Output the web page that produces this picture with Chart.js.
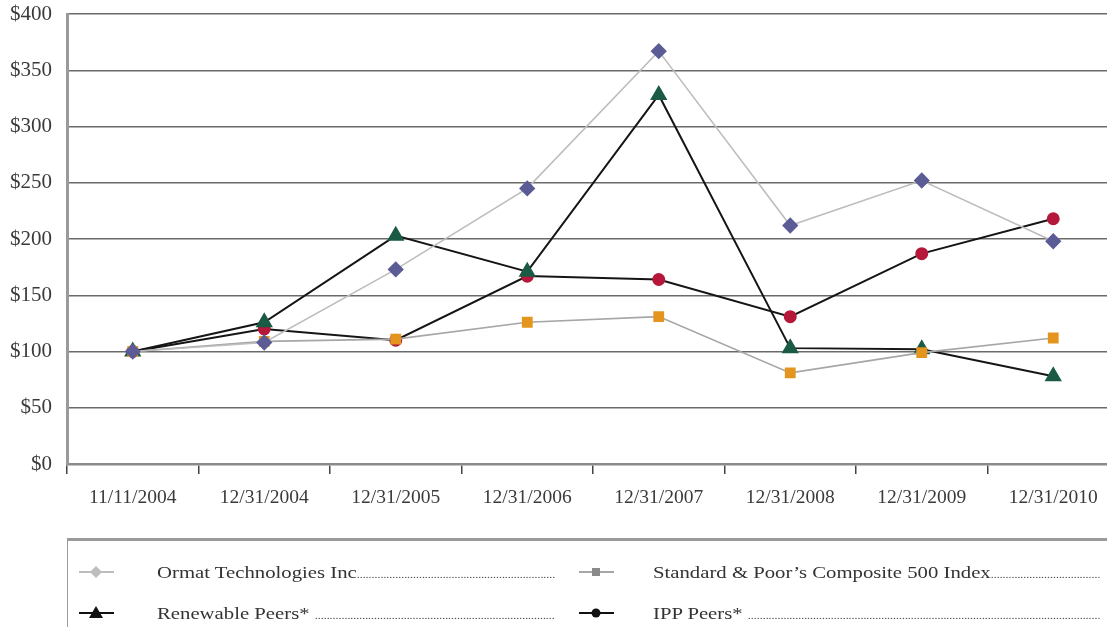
<!DOCTYPE html>
<html>
<head>
<meta charset="utf-8">
<script src="https://cdn.jsdelivr.net/npm/chart.js@4/dist/chart.umd.min.js"></script>
<style>
  html, body { margin:0; padding:0; background:#fff; overflow:hidden; width:1107px; height:627px; }
  #wrap { position:absolute; left:0; top:0; width:1129px; height:627px; }
  #legend { position:absolute; left:67px; top:538px; width:1060px; height:100px;
    border-top:3px solid #9a9a9a; border-left:1px solid #9a9a9a; box-sizing:border-box;
    font-family:"Liberation Serif", "DejaVu Serif", serif; font-size:17.5px; color:#333; }
  #legend span.t { position:absolute; display:block; height:24px; line-height:24px; white-space:nowrap; overflow:hidden;
    transform:scaleX(1.185); transform-origin:0 50%; }
  #legend span.d { font-size:10px; color:#444; }
</style>
</head>
<body>
<div id="wrap"><canvas id="c" width="1129" height="627"></canvas></div>
<div id="legend"></div>
<script>
const categories = ["11/11/2004","12/31/2004","12/31/2005","12/31/2006","12/31/2007","12/31/2008","12/31/2009","12/31/2010"];
const ormat     = [100, 108, 173, 245, 367, 212, 252, 198];
const sp500     = [100, 109, 111, 126, 131, 81, 99, 112];
const renewable = [100, 126, 203, 171, 328, 103, 102, 78];
const ipp       = [100, 120, 110, 167, 164, 131, 187, 218];
const yTicks = [0, 50, 100, 150, 200, 250, 300, 350, 400];
const seriesNames = ["Ormat Technologies Inc", "Standard & Poor\u2019s Composite 500 Index", "Renewable Peers*", "IPP Peers*"];

const serif = '"Liberation Serif", "DejaVu Serif", serif';

new Chart(document.getElementById('c'), {
  type: 'line',
  data: {
    labels: categories,
    datasets: [
      { label: seriesNames[0], data: ormat, borderColor:'#bdbdbd', borderWidth:1.6,
        pointStyle:'rectRot', pointRadius:7, pointBackgroundColor:'#5b5b95', pointBorderColor:'#5b5b95', tension:0 },
      { label: seriesNames[1], data: sp500, borderColor:'#a6a6a6', borderWidth:1.6,
        pointStyle:'rect', pointRadius:6.5, pointBackgroundColor:'#e3951d', pointBorderColor:'#e3951d', tension:0 },
      { label: seriesNames[2], data: renewable, borderColor:'#151515', borderWidth:2,
        pointStyle:'triangle', pointRadius:8, pointBackgroundColor:'#1b5a45', pointBorderColor:'#1b5a45', tension:0 },
      { label: seriesNames[3], data: ipp, borderColor:'#151515', borderWidth:2,
        pointStyle:'circle', pointRadius:5.5, pointBackgroundColor:'#b5183a', pointBorderColor:'#b5183a', tension:0 }
    ]
  },
  options: {
    responsive:false, animation:false,
    layout:{ padding:{ top:14, right:2, left:0, bottom:0 } },
    plugins:{ legend:{display:false}, tooltip:{enabled:false} },
    scales:{
      x:{
        offset:true,
        grid:{ offset:true, drawOnChartArea:false, drawTicks:true, tickLength:10, tickColor:'#444', lineWidth:1.5 },
        border:{ color:'#8a8a8a', width:2.5 },
        ticks:{ font:{ family:serif, size:19.5 }, color:'#3a3a3a', padding:12, maxRotation:0, autoSkip:false },
        afterFit: s => { s.height = 627 - 464; s.paddingLeft = 0; s.paddingRight = 0; }
      },
      y:{
        min:0, max:400,
        afterBuildTicks: s => { s.ticks = yTicks.map(v => ({value:v})); },
        grid:{ color:'#6a6a6a', lineWidth:1.5, drawTicks:false },
        border:{ color:'#9a9a9a', width:3 },
        ticks:{ font:{ family:serif, size:21 }, color:'#3a3a3a', padding:15, callback: v => '$' + v },
        afterFit: s => { s.width = 67; s.paddingTop = 0; s.paddingBottom = 0; }
      }
    }
  }
});

// legend (HTML text)
const legend = document.getElementById('legend');
const legendDefs = [
  { name: seriesNames[0], sep:'',  color:'#bdbdbd', mcolor:'#bdbdbd', shape:'diamond', x:10, y:20, textX:89, textW:336 },
  { name: seriesNames[1], sep:'',  color:'#a6a6a6', mcolor:'#8a8a8a', shape:'square', x:510, y:20, textX:585, textW:377 },
  { name: seriesNames[2], sep:' ', color:'#111', mcolor:'#111', shape:'triangle', x:10, y:61, textX:89, textW:336 },
  { name: seriesNames[3], sep:' ', color:'#111', mcolor:'#111', shape:'circle', x:510, y:61, textX:585, textW:377 }
];
legendDefs.forEach(d => {
  const cv = document.createElement('canvas');
  cv.width = 40; cv.height = 20;
  cv.style.position='absolute'; cv.style.left = d.x+'px'; cv.style.top = (d.y+1)+'px';
  const g = cv.getContext('2d');
  g.strokeStyle = d.color; g.lineWidth = 2.2;
  g.beginPath(); g.moveTo(1,10); g.lineTo(36,10); g.stroke();
  g.fillStyle = d.mcolor; g.beginPath();
  if (d.shape==='diamond'){ g.moveTo(18,4); g.lineTo(24,10); g.lineTo(18,16); g.lineTo(12,10); }
  else if (d.shape==='square'){ g.rect(14,6,8,8); }
  else if (d.shape==='triangle'){ g.moveTo(18,3); g.lineTo(25,15); g.lineTo(11,15); }
  else { g.arc(18,10,4.5,0,Math.PI*2); }
  g.closePath(); g.fill();
  legend.appendChild(cv);
  const sp = document.createElement('span');
  sp.className = 't';
  sp.style.left = d.textX+'px'; sp.style.top = (d.y-1)+'px'; sp.style.width = d.textW+'px';
  sp.appendChild(document.createTextNode(d.name + d.sep));
  const dots = document.createElement('span');
  dots.className = 'd';
  dots.textContent = '.'.repeat(300);
  sp.appendChild(dots);
  legend.appendChild(sp);
});
</script>
</body>
</html>
